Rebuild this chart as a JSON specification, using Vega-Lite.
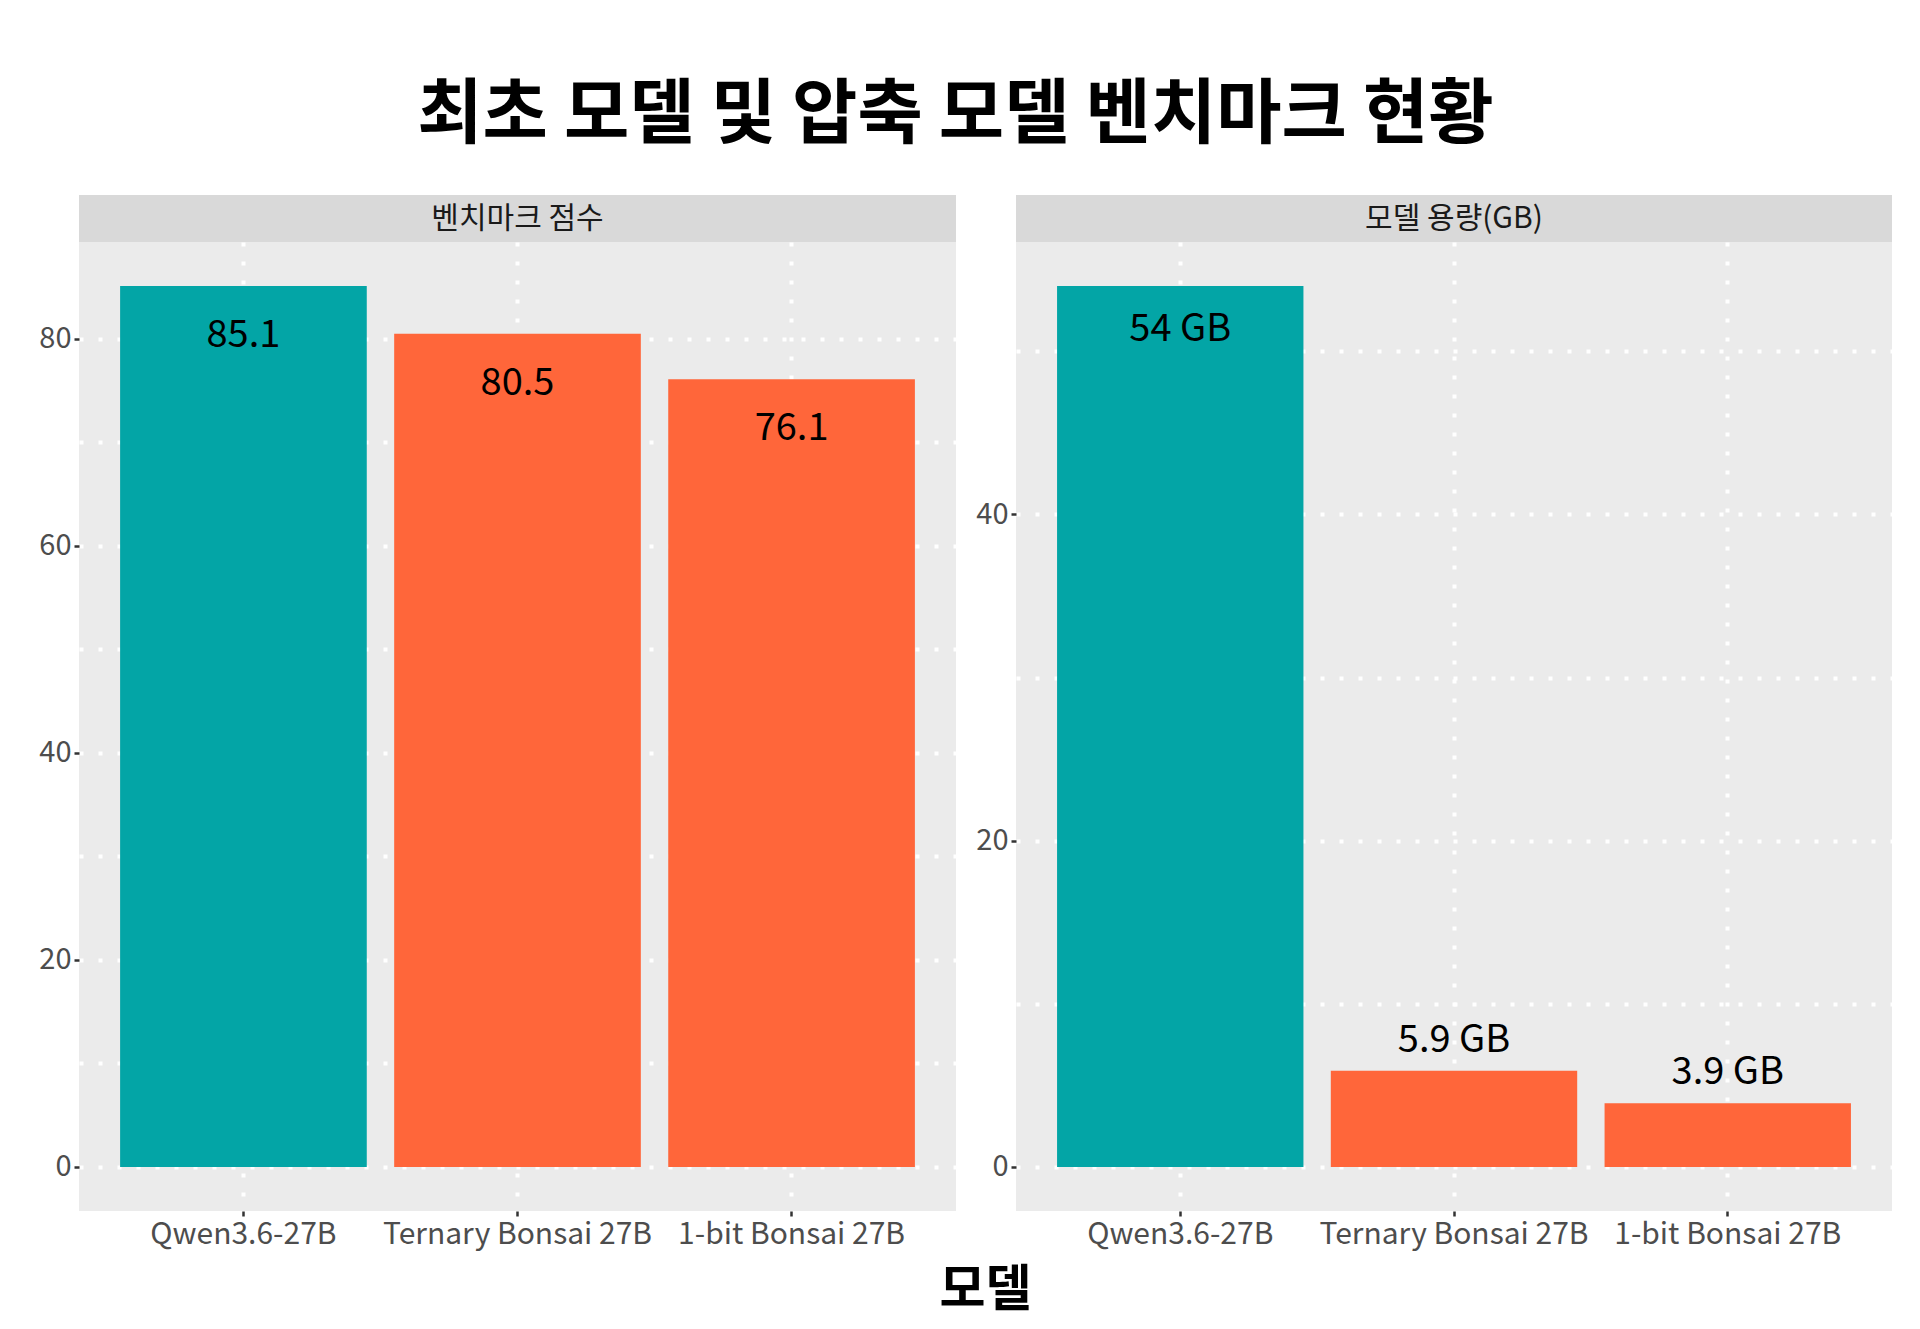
{
  "$schema": "https://vega.github.io/schema/vega-lite/v6.json",
  "background": "white",
  "padding": {"left": 38, "top": 80, "right": 25, "bottom": 10},
  "config": {
    "font": "Noto Sans CJK KR",
    "view": {"stroke": null},
    "axis": {
      "domain": false,
      "labelFont": "Noto Sans CJK KR",
      "labelFontSize": 29,
      "labelColor": "#4D4D4D",
      "labelLimit": 0,
      "labelOverlap": false,
      "tickColor": "#333333",
      "tickSize": 5,
      "tickWidth": 2.5,
      "labelPadding": 3,
      "gridColor": "white",
      "gridWidth": 4,
      "gridDash": [4, 15],
      "title": null
    }
  },
  "title": {
    "text": "최초 모델 및 압축 모델 벤치마크 현황",
    "font": "Noto Sans CJK KR",
    "fontSize": 71,
    "fontWeight": "bold",
    "color": "black",
    "anchor": "middle",
    "dx": -10,
    "offset": 43
  },
  "datasets": {
    "bench": [
      {"model": "Qwen3.6-27B", "metric": "벤치마크 점수", "kind": "최초", "value": 85.1, "label": "85.1"},
      {"model": "Ternary Bonsai 27B", "metric": "벤치마크 점수", "kind": "압축", "value": 80.5, "label": "80.5"},
      {"model": "1-bit Bonsai 27B", "metric": "벤치마크 점수", "kind": "압축", "value": 76.1, "label": "76.1"},
      {"model": "Qwen3.6-27B", "metric": "모델 용량(GB)", "kind": "최초", "value": 54, "label": "54 GB"},
      {"model": "Ternary Bonsai 27B", "metric": "모델 용량(GB)", "kind": "압축", "value": 5.9, "label": "5.9 GB"},
      {"model": "1-bit Bonsai 27B", "metric": "모델 용량(GB)", "kind": "압축", "value": 3.9, "label": "3.9 GB"}
    ],
    "strips": [
      {"metric": "벤치마크 점수"},
      {"metric": "모델 용량(GB)"}
    ],
    "xtitle": [{"text": "모델"}]
  },
  "vconcat": [
    {
      "hconcat": [
        {
          "vconcat": [
            {
              "width": 877,
              "height": 47,
              "view": {"fill": "#D9D9D9", "stroke": null},
              "data": {"name": "strips"},
              "transform": [{"filter": "datum.metric == '벤치마크 점수'"}],
              "mark": {"type": "text", "fontSize": 30, "color": "#1A1A1A", "baseline": "middle"},
              "encoding": {"text": {"field": "metric"}}
            },
            {
              "width": 877,
              "height": 969,
              "view": {"fill": "#EBEBEB", "stroke": null},
              "data": {"name": "bench"},
              "transform": [{"filter": "datum.metric == '벤치마크 점수'"}],
              "encoding": {
                "x": {
                  "field": "model",
                  "type": "nominal",
                  "sort": ["Qwen3.6-27B", "Ternary Bonsai 27B", "1-bit Bonsai 27B"],
                  "scale": {"paddingInner": 0.1, "paddingOuter": 0.15},
                  "axis": {"labelAngle": 0, "grid": true, "labelFontSize": 30}
                },
                "y": {
                  "field": "value",
                  "type": "quantitative",
                  "scale": {"domain": [-4.255, 89.355], "nice": false, "zero": false},
                  "axis": {
                    "values": [0, 10, 20, 30, 40, 50, 60, 70, 80],
                    "labelExpr": "datum.value % 20 == 0 ? datum.label : ''",
                    "tickOpacity": {"condition": {"test": "datum.value % 20 != 0", "value": 0}, "value": 1},
                    "grid": true
                  }
                }
              },
              "layer": [
                {
                  "mark": {"type": "bar"},
                  "encoding": {
                    "y2": {"datum": 0},
                    "color": {
                      "field": "kind",
                      "type": "nominal",
                      "scale": {"domain": ["최초", "압축"], "range": ["#03A5A6", "#FF663A"]},
                      "legend": null
                    }
                  }
                },
                {
                  "mark": {"type": "text", "fontSize": 38, "color": "black", "baseline": "middle", "dy": 50},
                  "encoding": {"text": {"field": "label"}}
                }
              ]
            }
          ],
          "spacing": 0
        },
        {
          "vconcat": [
            {
              "width": 876,
              "height": 47,
              "view": {"fill": "#D9D9D9", "stroke": null},
              "data": {"name": "strips"},
              "transform": [{"filter": "datum.metric == '모델 용량(GB)'"}],
              "mark": {"type": "text", "fontSize": 30, "color": "#1A1A1A", "baseline": "middle"},
              "encoding": {"text": {"field": "metric"}}
            },
            {
              "width": 876,
              "height": 969,
              "view": {"fill": "#EBEBEB", "stroke": null},
              "data": {"name": "bench"},
              "transform": [{"filter": "datum.metric == '모델 용량(GB)'"}],
              "encoding": {
                "x": {
                  "field": "model",
                  "type": "nominal",
                  "sort": ["Qwen3.6-27B", "Ternary Bonsai 27B", "1-bit Bonsai 27B"],
                  "scale": {"paddingInner": 0.1, "paddingOuter": 0.15},
                  "axis": {"labelAngle": 0, "grid": true, "labelFontSize": 30}
                },
                "y": {
                  "field": "value",
                  "type": "quantitative",
                  "scale": {"domain": [-2.7, 56.7], "nice": false, "zero": false},
                  "axis": {
                    "values": [0, 10, 20, 30, 40, 50],
                    "labelExpr": "datum.value % 20 == 0 ? datum.label : ''",
                    "tickOpacity": {"condition": {"test": "datum.value % 20 != 0", "value": 0}, "value": 1},
                    "grid": true
                  }
                }
              },
              "layer": [
                {
                  "mark": {"type": "bar"},
                  "encoding": {
                    "y2": {"datum": 0},
                    "color": {
                      "field": "kind",
                      "type": "nominal",
                      "scale": {"domain": ["최초", "압축"], "range": ["#03A5A6", "#FF663A"]},
                      "legend": null
                    }
                  }
                },
                {
                  "transform": [{"filter": "datum.value >= 20"}],
                  "mark": {"type": "text", "fontSize": 38, "color": "black", "baseline": "middle", "dy": 44},
                  "encoding": {"text": {"field": "label"}}
                },
                {
                  "transform": [{"filter": "datum.value < 20"}],
                  "mark": {"type": "text", "fontSize": 38, "color": "black", "baseline": "middle", "dy": -30},
                  "encoding": {"text": {"field": "label"}}
                }
              ]
            }
          ],
          "spacing": 0
        }
      ],
      "spacing": 19
    },
    {
      "width": 1813,
      "height": 50,
      "data": {"name": "xtitle"},
      "mark": {"type": "text", "fontSize": 50, "fontWeight": "bold", "color": "black", "baseline": "middle"},
      "encoding": {"text": {"field": "text"}}
    }
  ],
  "spacing": 17
}
